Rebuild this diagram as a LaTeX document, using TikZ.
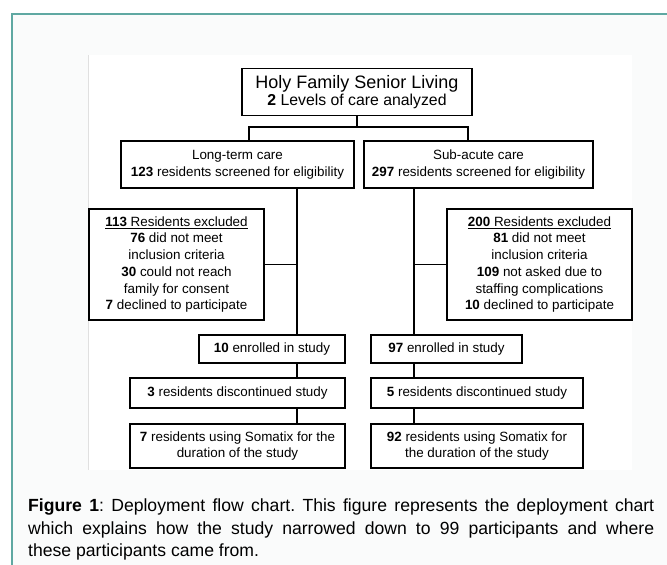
\documentclass[tikz,border=0pt]{standalone}
\usepackage{fontspec}
\setmainfont{Liberation Sans}
\usetikzlibrary{positioning}

\definecolor{framecol}{RGB}{95,168,162}
\definecolor{pagecol}{RGB}{250,251,251}

\tikzset{
	box/.style={draw, line width=1.6pt, fill=white, align=center, inner sep=0pt,
		font=\fontsize{13.4}{16.7}\selectfont},
	link/.style={line width=1.2pt}
}

\begin{document}
\begin{tikzpicture}[x=1pt, y=-1pt]
\useasboundingbox (0,0) rectangle (667,565);
\fill[white] (0,0) rectangle (667,565);
\fill[pagecol] (12,14) rectangle (667,565);
\draw[framecol, line width=2pt] (12,565) -- (12,14) -- (667,14);
\fill[white] (88,55) rectangle (632,470);
\draw[black!12] (88,55) -- (88,470);

\node[box, minimum width=230, minimum height=47] (top) at (357,92)
	{{\fontsize{18}{21}\selectfont Holy Family Senior Living}\\
	{\fontsize{15.8}{19}\selectfont\textbf{2} Levels of care analyzed}};

\node[box, minimum width=233, minimum height=47] (lcare) at (237.5,164.5)
	{Long-term care\\ \textbf{123} residents screened for eligibility};
\node[box, minimum width=229, minimum height=47] (rcare) at (478.5,164.5)
	{Sub-acute care\\ \textbf{297} residents screened for eligibility};

\node[box, minimum width=175, minimum height=111] (lexcl) at (176.5,264.5)
	{\underline{\textbf{113} Residents excluded}\\ \textbf{76} did not meet\\ inclusion criteria\\
	\textbf{30} could not reach\\ family for consent\\ \textbf{7} declined to participate};
\node[box, minimum width=185, minimum height=111] (rexcl) at (539.5,264.5)
	{\underline{\textbf{200} Residents excluded}\\ \textbf{81} did not meet\\ inclusion criteria\\
	\textbf{109} not asked due to\\ staffing complications\\ \textbf{10} declined to participate};

\node[box, minimum width=146, minimum height=28] (lenr) at (272,349) {\textbf{10} enrolled in study};
\node[box, minimum width=151, minimum height=28] (renr) at (446.5,349) {\textbf{97} enrolled in study};

\node[box, minimum width=215, minimum height=30] (ldis) at (237.5,393) {\textbf{3} residents discontinued study};
\node[box, minimum width=212, minimum height=30] (rdis) at (477,393) {\textbf{5} residents discontinued study};

\node[box, minimum width=215, minimum height=44] (lfin) at (237.5,446)
	{\textbf{7} residents using Somatix for the\\ duration of the study};
\node[box, minimum width=212, minimum height=44] (rfin) at (477,446)
	{\textbf{92} residents using Somatix for\\ the duration of the study};

\coordinate (jl) at (249,127);
\coordinate (jr) at (468,127);
\coordinate (tl) at (297,0);
\coordinate (tr) at (414,0);

\draw[link] (top.south) -- (top.south |- jl);
\draw[link] (lcare.north -| jl) -- (jl) -- (jr) -- (rcare.north -| jr);

\draw[link] (lcare.south -| tl) -- (lenr.north -| tl);
\draw[link] (lexcl.east) -- (lexcl.east -| tl);
\draw[link] (lenr.south -| tl) -- (ldis.north -| tl);
\draw[link] (ldis.south -| tl) -- (lfin.north -| tl);

\draw[link] (rcare.south -| tr) -- (renr.north -| tr);
\draw[link] (rexcl.west) -- (rexcl.west -| tr);
\draw[link] (renr.south -| tr) -- (rdis.north -| tr);
\draw[link] (rdis.south -| tr) -- (rfin.north -| tr);

\node[anchor=north west, inner sep=0pt, text width=626, align=justify,
	font=\fontsize{17.6}{22.5}\selectfont] (cap) at (28,499)
	{\frenchspacing\hyphenpenalty=10000 \textbf{Figure 1}: Deployment flow chart. This figure represents the deployment chart\linebreak
	which explains how the study narrowed down to 99 participants and where\linebreak
	these participants came from.};
\end{tikzpicture}
\end{document}
